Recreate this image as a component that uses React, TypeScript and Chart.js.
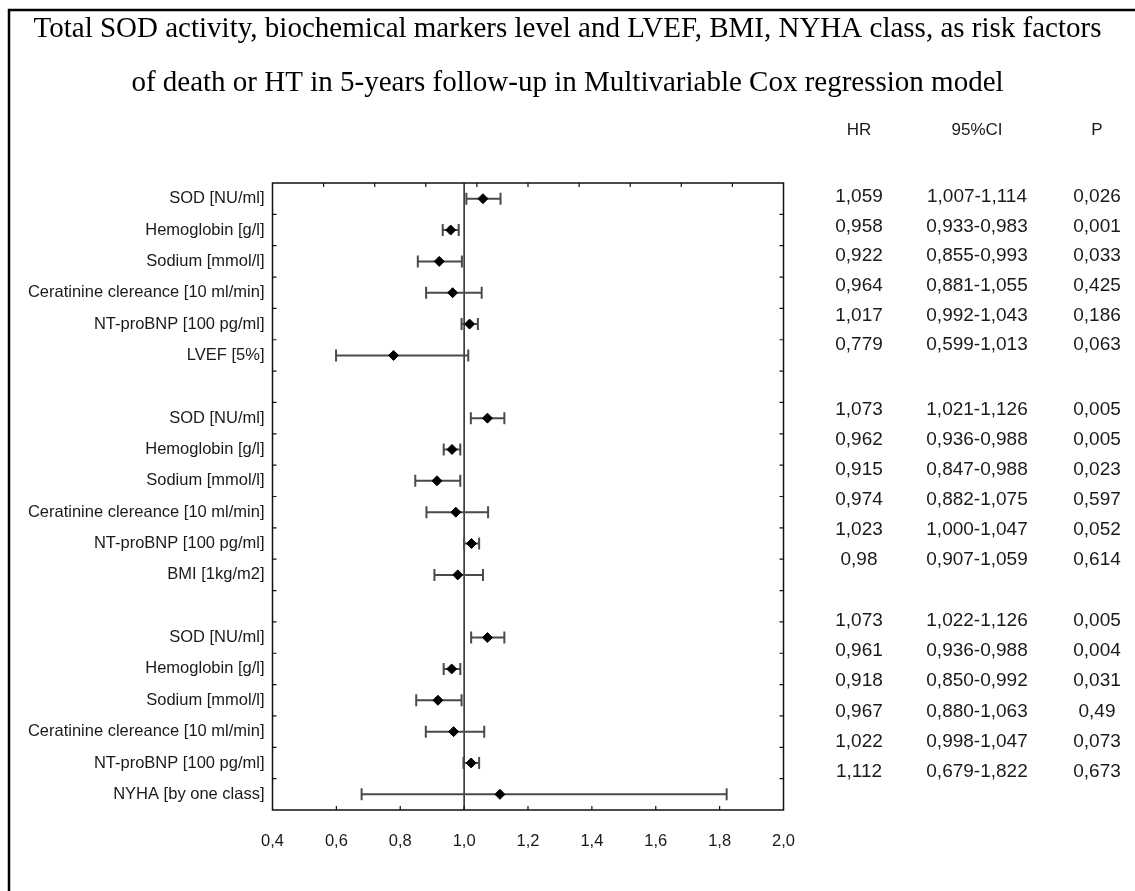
import React, { useEffect, useRef } from 'react';
import { Chart, registerables } from 'chart.js';

Chart.register(...registerables);

const titleLines = [
  'Total SOD activity, biochemical markers level and LVEF, BMI, NYHA class, as risk factors',
  'of death or HT in 5-years follow-up in Multivariable Cox regression model',
];

const rowLabels = [
  'SOD [NU/ml]', 'Hemoglobin [g/l]', 'Sodium [mmol/l]', 'Ceratinine clereance [10 ml/min]', 'NT-proBNP [100 pg/ml]', 'LVEF [5%]',
  '',
  'SOD [NU/ml]', 'Hemoglobin [g/l]', 'Sodium [mmol/l]', 'Ceratinine clereance [10 ml/min]', 'NT-proBNP [100 pg/ml]', 'BMI [1kg/m2]',
  '',
  'SOD [NU/ml]', 'Hemoglobin [g/l]', 'Sodium [mmol/l]', 'Ceratinine clereance [10 ml/min]', 'NT-proBNP [100 pg/ml]', 'NYHA [by one class]',
];

const hrValues = [
  1.059, 0.958, 0.922, 0.964, 1.017, 0.779,
  null,
  1.073, 0.962, 0.915, 0.974, 1.023, 0.98,
  null,
  1.073, 0.961, 0.918, 0.967, 1.022, 1.112,
];
const ciLower = [
  1.007, 0.933, 0.855, 0.881, 0.992, 0.599,
  null,
  1.021, 0.936, 0.847, 0.882, 1.0, 0.907,
  null,
  1.022, 0.936, 0.85, 0.88, 0.998, 0.679,
];
const ciUpper = [
  1.114, 0.983, 0.993, 1.055, 1.043, 1.013,
  null,
  1.126, 0.988, 0.988, 1.075, 1.047, 1.059,
  null,
  1.126, 0.988, 0.992, 1.063, 1.047, 1.822,
];

const tableHeaders = ['HR', '95%CI', 'P'];
const hrText = [
  '1,059', '0,958', '0,922', '0,964', '1,017', '0,779',
  '1,073', '0,962', '0,915', '0,974', '1,023', '0,98',
  '1,073', '0,961', '0,918', '0,967', '1,022', '1,112',
];
const ciText = [
  '1,007-1,114', '0,933-0,983', '0,855-0,993', '0,881-1,055', '0,992-1,043', '0,599-1,013',
  '1,021-1,126', '0,936-0,988', '0,847-0,988', '0,882-1,075', '1,000-1,047', '0,907-1,059',
  '1,022-1,126', '0,936-0,988', '0,850-0,992', '0,880-1,063', '0,998-1,047', '0,679-1,822',
];
const pText = [
  '0,026', '0,001', '0,033', '0,425', '0,186', '0,063',
  '0,005', '0,005', '0,023', '0,597', '0,052', '0,614',
  '0,005', '0,004', '0,031', '0,49', '0,073', '0,673',
];

const xMin = 0.4;
const xMax = 2.0;
const xStep = 0.2;
const topTickStep = 0.16;
const refValue = 1.0;

const SANS = '"Liberation Sans", Arial, sans-serif';
const SERIF = '"Liberation Serif", "Times New Roman", serif';
const TEXT = '#1a1a1a';

const forestPlugin = {
  id: 'forest',
  beforeDatasetsDraw(chart: any) {
    const { ctx, chartArea, scales } = chart;
    const xs = scales.x;
    const ys = scales.y;
    ctx.save();
    const rx = xs.getPixelForValue(refValue);
    ctx.strokeStyle = '#222';
    ctx.lineWidth = 1.5;
    ctx.beginPath();
    ctx.moveTo(rx, chartArea.top);
    ctx.lineTo(rx, chartArea.bottom);
    ctx.stroke();
    ctx.strokeStyle = '#4a4a4a';
    ctx.lineWidth = 2;
    for (let i = 0; i < hrValues.length; i++) {
      if (hrValues[i] == null) continue;
      const y = ys.getPixelForValue(i);
      const x1 = xs.getPixelForValue(ciLower[i] as number);
      const x2 = xs.getPixelForValue(ciUpper[i] as number);
      ctx.beginPath();
      ctx.moveTo(x1, y);
      ctx.lineTo(x2, y);
      ctx.moveTo(x1, y - 6);
      ctx.lineTo(x1, y + 6);
      ctx.moveTo(x2, y - 6);
      ctx.lineTo(x2, y + 6);
      ctx.stroke();
    }
    ctx.restore();
  },
  afterDraw(chart: any) {
    const { ctx, chartArea, scales, width } = chart;
    const xs = scales.x;
    const ys = scales.y;
    const { left, right, top, bottom } = chartArea;
    ctx.save();
    // frame
    ctx.strokeStyle = '#111';
    ctx.lineWidth = 1.5;
    ctx.strokeRect(left, top, right - left, bottom - top);
    // inward ticks
    ctx.lineWidth = 1.2;
    ctx.beginPath();
    for (let i = 1; i < rowLabels.length; i++) {
      const yb = (ys.getPixelForValue(i - 1) + ys.getPixelForValue(i)) / 2;
      ctx.moveTo(left, yb);
      ctx.lineTo(left + 4, yb);
      ctx.moveTo(right, yb);
      ctx.lineTo(right - 4, yb);
    }
    for (let v = xMin + xStep; v < xMax - 1e-6; v += xStep) {
      const xb = xs.getPixelForValue(v);
      ctx.moveTo(xb, bottom);
      ctx.lineTo(xb, bottom - 4);
    }
    for (let v = xMin + topTickStep; v < xMax - 1e-6; v += topTickStep) {
      const xt = xs.getPixelForValue(v);
      ctx.moveTo(xt, top);
      ctx.lineTo(xt, top + 4);
    }
    ctx.stroke();

    // title
    ctx.fillStyle = '#000';
    ctx.textAlign = 'center';
    ctx.textBaseline = 'middle';
    ctx.font = `29px ${SERIF}`;
    ctx.fillText(titleLines[0], width / 2, 29);
    ctx.fillText(titleLines[1], width / 2, 83);

    // table
    const colX = [859, 977, 1097];
    ctx.fillStyle = TEXT;
    ctx.font = `17px ${SANS}`;
    tableHeaders.forEach((h, c) => ctx.fillText(h, colX[c], 130));
    const groupTop = [196.7, 409.3, 620.7];
    const groupGap = [29.7, 30, 30.2];
    ctx.font = `19px ${SANS}`;
    for (let i = 0; i < hrText.length; i++) {
      const g = Math.floor(i / 6);
      const r = i % 6;
      const y = groupTop[g] + r * groupGap[g];
      ctx.fillText(hrText[i], colX[0], y);
      ctx.fillText(ciText[i], colX[1], y);
      ctx.fillText(pText[i], colX[2], y);
    }

    // outer border (top and left edges visible)
    ctx.strokeStyle = '#000';
    ctx.lineWidth = 2.5;
    ctx.beginPath();
    ctx.moveTo(9, 891);
    ctx.lineTo(9, 10);
    ctx.lineTo(1135, 10);
    ctx.stroke();
    ctx.restore();
  },
};

export default function App() {
  const canvasRef = useRef<HTMLCanvasElement | null>(null);

  useEffect(() => {
    const canvas = canvasRef.current;
    if (!canvas) return;
    const points = hrValues.map((v, i) => ({ x: v, y: i }));
    const chart = new Chart(canvas, {
      type: 'scatter',
      data: {
        datasets: [
          {
            data: points as any,
            pointStyle: 'rectRot',
            pointRadius: 5,
            pointBackgroundColor: '#000',
            pointBorderColor: '#000',
            pointBorderWidth: 1,
          },
        ],
      },
      options: {
        responsive: false,
        animation: false,
        devicePixelRatio: 1,
        layout: { padding: { left: 0, right: 351.5, top: 183, bottom: 0 } },
        plugins: {
          legend: { display: false },
          tooltip: { enabled: false },
          title: { display: false },
        },
        scales: {
          x: {
            type: 'linear',
            min: xMin,
            max: xMax,
            ticks: {
              stepSize: xStep,
              color: TEXT,
              font: { family: SANS, size: 16.5 },
              padding: 22,
              callback: (v: any) => Number(v).toFixed(1).replace('.', ','),
            },
            grid: { display: false, drawTicks: false },
            border: { display: false },
            afterFit: (s: any) => {
              s.height = 81;
            },
          },
          y: {
            type: 'category',
            labels: rowLabels,
            offset: true,
            ticks: {
              autoSkip: false,
              color: TEXT,
              font: { family: SANS, size: 16.5 },
              padding: 8,
            },
            grid: { display: false, drawTicks: false, offset: true },
            border: { display: false },
            afterFit: (s: any) => {
              s.width = 272.5;
            },
          },
        },
      } as any,
      plugins: [forestPlugin],
    });
    return () => chart.destroy();
  }, []);

  return (
    <div style={{ position: 'fixed', left: 0, top: 0, width: 1135, height: 891, background: '#fff' }}>
      <canvas ref={canvasRef} width={1135} height={891} style={{ display: 'block', width: 1135, height: 891 }} />
    </div>
  );
}
